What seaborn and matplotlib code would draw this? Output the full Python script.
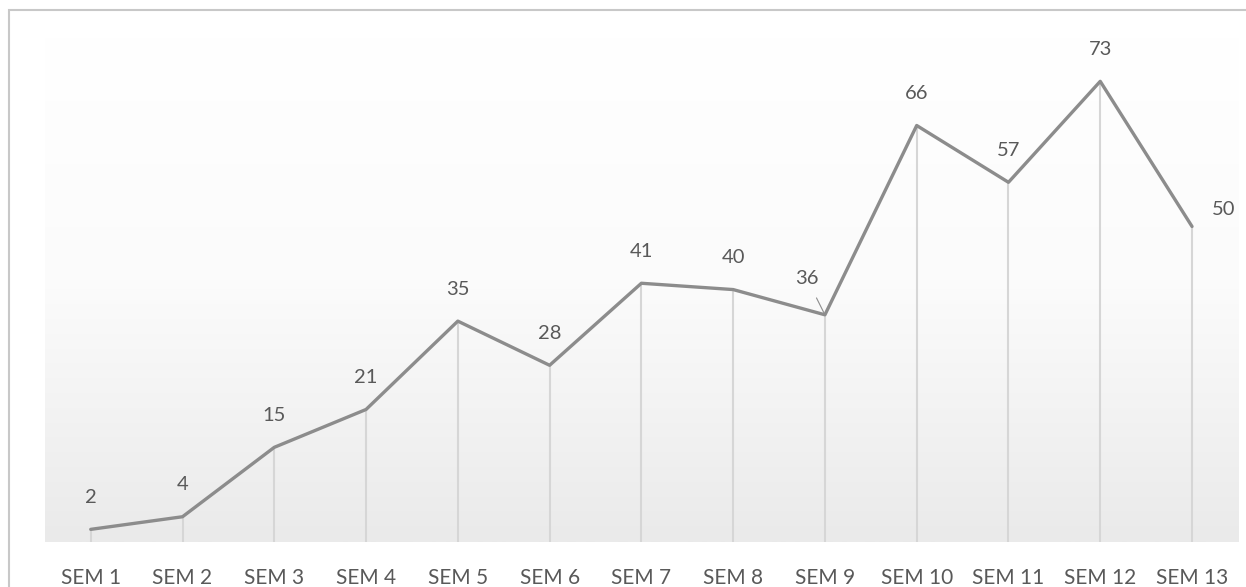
import numpy as np
import pandas as pd
import matplotlib.pyplot as plt
import seaborn as sns
from matplotlib.patches import Rectangle

sns.set_style("white")
plt.rcParams['font.family'] = ['Lato', 'DejaVu Sans']

# data
semesters = [f"SEM {i}" for i in range(1, 14)]
values = [2, 4, 15, 21, 35, 28, 41, 40, 36, 66, 57, 73, 50]

df = pd.DataFrame({'sem': semesters, 'val': values})

fig = plt.figure(figsize=(12.46, 5.87), dpi=100)
ax = fig.add_axes([0.036, 0.0767, 0.9575, 0.86])

# outer chart border
fig.patches.append(Rectangle((9 / 1246, -0.01), 1.02, 1 - 10 / 587 + 0.01,
                             transform=fig.transFigure, fill=False,
                             edgecolor='#c8c8c8', linewidth=1.5, zorder=0))

# gradient background: white at top, light gray at bottom
grad = np.linspace(1.0, 0.0, 256).reshape(-1, 1)
ax.imshow(grad, cmap=plt.matplotlib.colors.LinearSegmentedColormap.from_list(
    'bg', ['#eaeaea', '#fbfbfb', '#ffffff']), aspect='auto',
    extent=[0, 1, 0, 1], transform=ax.transAxes, zorder=0, vmin=0, vmax=1)

x = np.arange(len(semesters))

# drop lines
ax.vlines(x, 0, values, color='#d6d6d6', linewidth=1.5, zorder=1)

sns.lineplot(data=df, x='sem', y='val', ax=ax, color='#8c8c8c',
             linewidth=2.4, sort=False, zorder=3)

ax.set_xlim(-0.5, len(semesters) - 0.5)
ax.set_ylim(0, 80)
ax.set_xlabel('')
ax.set_ylabel('')
ax.set_yticks([])
ax.tick_params(axis='x', labelsize=15, colors='#595959', length=0, pad=19)
for s in ax.spines.values():
    s.set_visible(False)

# data labels
for i, v in enumerate(values):
    if i == len(values) - 1:
        ax.annotate(str(v), (i, v), xytext=(23, 12), textcoords='offset points',
                    ha='center', va='center', fontsize=14.5, color='#595959')
    elif i == 8:
        ax.annotate(str(v), (i, v), xytext=(-13, 26), textcoords='offset points',
                    ha='center', va='center', fontsize=14.5, color='#595959',
                    arrowprops=dict(arrowstyle='-', color='#8c8c8c', lw=0.8,
                                    shrinkA=6, shrinkB=1))
    else:
        ax.annotate(str(v), (i, v), xytext=(0, 23), textcoords='offset points',
                    ha='center', va='center', fontsize=14.5, color='#595959')

plt.savefig('out.png', dpi=100)
